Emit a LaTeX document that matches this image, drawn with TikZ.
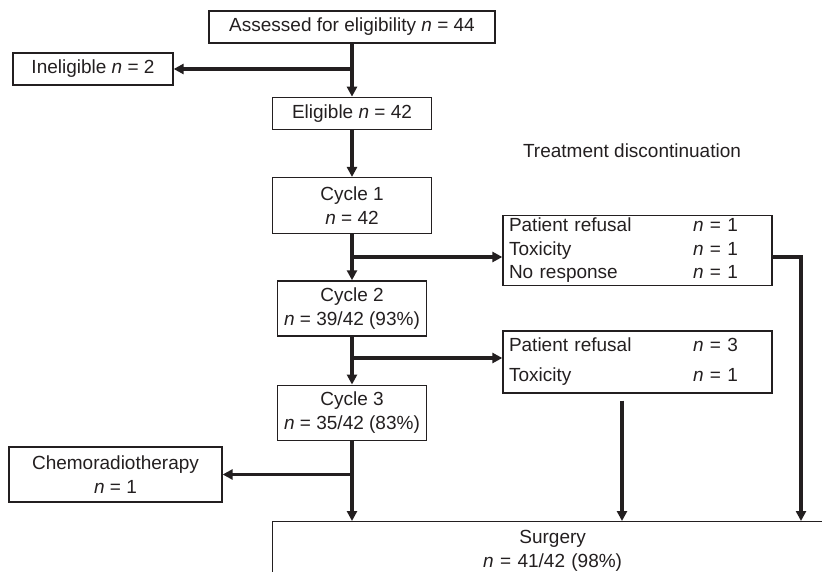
\documentclass[tikz,border=0pt]{standalone}
\usepackage{fontspec}
\setmainfont{Liberation Sans}
\usepackage{tikz}
\usetikzlibrary{positioning, arrows.meta}

\definecolor{ink}{RGB}{35,31,32}

\begin{document}
\begin{tikzpicture}[
    x=1pt, y=-1pt,
    every node/.style={text=ink, font=\fontsize{19pt}{23.5pt}\selectfont},
    box/.style={draw=ink, line width=1.3pt, align=center, inner sep=0pt},
    dlist/.style={draw=ink, line width=1.3pt, align=left, text width=257pt, inner xsep=6pt, inner ysep=0pt},
    link/.style={draw=ink, line width=3.4pt},
    arr/.style={link, -{Triangle[length=10pt, width=10pt]}},
]
\clip (0,0) rectangle (822,572);

% Draw the main column
\node[box, minimum width=286pt, minimum height=32pt] (assessed) at (352,27) {Assessed for eligibility \textit{n} = 44};
\node[box, minimum width=159pt, minimum height=32pt, below=53pt of assessed] (eligible) {Eligible \textit{n} = 42};
\node[box, minimum width=159pt, minimum height=56pt, below=47pt of eligible] (cycle1) {Cycle 1\\\textit{n} = 42};
\node[box, minimum width=149pt, minimum height=55pt, below=46pt of cycle1] (cycle2) {Cycle 2\\\textit{n} = 39/42 (93\%)};
\node[box, minimum width=149pt, minimum height=55pt, below=48pt of cycle2] (cycle3) {Cycle 3\\\textit{n} = 35/42 (83\%)};
\node[box, text width=560pt, inner ysep=9pt, anchor=north west] (surgery) at (272,521) {Surgery\\\textit{n} = 41/42 (98\%)};

% Draw the side boxes
\node[box, minimum width=160pt, minimum height=32pt] (inelig) at (93,69) {Ineligible \textit{n} = 2};
\node[box, minimum width=213pt, minimum height=55pt] (chemo) at (115.5,474.5) {Chemoradiotherapy\\\textit{n} = 1};

% Draw the discontinuation lists
\node (disctitle) at (632,151) {Treatment discontinuation};
\node[dlist, minimum height=69pt] (disc1) at (637.5,250.5) {%
    \begin{tabular}{@{}p{184pt}@{}l@{}}
    Patient refusal & \textit{n} = 1\\
    Toxicity & \textit{n} = 1\\
    No response & \textit{n} = 1
    \end{tabular}};
\node[dlist, minimum height=62pt] (disc2) at (637.5,362) {%
    \begin{tabular}{@{}p{184pt}@{}l@{}}
    Patient refusal & \textit{n} = 3\\[6.5pt]
    Toxicity & \textit{n} = 1
    \end{tabular}};

% Draw the connectors
\coordinate (d1in) at ([yshift=-6.5pt]disc1.west);
\coordinate (d1out) at ([yshift=-6.5pt]disc1.east);
\coordinate (d2in) at ([yshift=4pt]disc2.west);
\coordinate (d2out) at ([xshift=-15.5pt, yshift=-7pt]disc2.south);
\coordinate (s1) at (801,521);

\draw[arr] (assessed) -- (eligible);
\draw[arr] (assessed.south |- inelig.east) -- (inelig.east);
\draw[arr] (eligible) -- (cycle1);
\draw[arr] (cycle1) -- (cycle2);
\draw[arr] (cycle1.south |- d1in) -- (d1in);
\draw[arr] (cycle2) -- (cycle3);
\draw[arr] (cycle2.south |- d2in) -- (d2in);
\draw[arr] (cycle3.south |- chemo.east) -- (chemo.east);
\draw[arr] (cycle3.south) -- (cycle3.south |- surgery.north);
\draw[arr] (d1out) -| (s1);
\draw[arr] (d2out) -- (d2out |- surgery.north);

\end{tikzpicture}
\end{document}
